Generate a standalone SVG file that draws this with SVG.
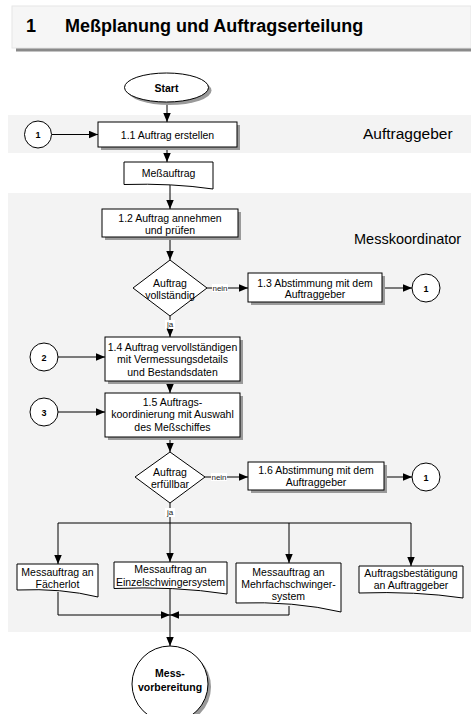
<svg xmlns="http://www.w3.org/2000/svg" width="471" height="714" viewBox="0 0 471 714">
<defs>
<marker id="ah" markerUnits="userSpaceOnUse" markerWidth="10" markerHeight="8" refX="9" refY="3.75" orient="auto">
<path d="M0,0 L9,3.75 L0,7.5 Z" fill="#000"/>
</marker>
<style>
text{font-family:"Liberation Sans",Arial,sans-serif;fill:#000}
.t{font-size:10.5px;text-anchor:middle}
.b{font-weight:bold}
.n{font-size:9px;font-weight:bold;text-anchor:middle}
.lab{font-size:8px;text-anchor:middle;fill:#222}
.lane{font-size:14.5px}
.box{fill:#fff;stroke:#000;stroke-width:1}
.sh{fill:#9a9a9a}
.c{fill:none;stroke:#000;stroke-width:1}
.ca{fill:none;stroke:#000;stroke-width:1;marker-end:url(#ah)}
</style>
</defs>
<rect width="471" height="714" fill="#fff"/>
<g id="title">
<rect x="16" y="48" width="455" height="3.5" fill="#8a8a8a"/>
<rect x="12" y="6" width="459" height="42" fill="#f6f6f6" stroke="#e6e6e6" stroke-width="1"/>
<text x="26" y="32" font-size="18" font-weight="bold">1</text>
<text x="65" y="32" font-size="18" font-weight="bold">Meßplanung und Auftragserteilung</text>
</g>
<g id="lane-auftraggeber">
<rect x="8" y="115" width="463" height="38" fill="#f3f3f3"/>
<text class="lane" x="363" y="139" font-size="15.5" style="font-size:15.5px">Auftraggeber</text>
</g>
<g id="lane-messkoordinator">
<rect x="8" y="193" width="463" height="439" fill="#f3f3f3"/>
<text class="lane" x="354" y="244">Messkoordinator</text>
</g>
<g id="connectors">
<line class="ca" x1="167" y1="102" x2="167" y2="122"/>
<line class="ca" x1="52" y1="134.5" x2="98" y2="134.5"/>
<line class="ca" x1="167" y1="147" x2="167" y2="162"/>
<line class="ca" x1="170" y1="184" x2="170" y2="209"/>
<line class="ca" x1="170" y1="237" x2="170" y2="260"/>
<line class="ca" x1="207" y1="288" x2="248" y2="288"/>
<line class="ca" x1="382" y1="288" x2="412" y2="288"/>
<line class="ca" x1="170" y1="316" x2="170" y2="337"/>
<line class="ca" x1="58" y1="357" x2="105" y2="357"/>
<line class="ca" x1="170" y1="381" x2="170" y2="393"/>
<line class="ca" x1="58" y1="412" x2="105" y2="412"/>
<line class="ca" x1="170" y1="437" x2="170" y2="452"/>
<line class="ca" x1="205" y1="477" x2="248" y2="477"/>
<line class="ca" x1="384" y1="477" x2="412" y2="477"/>
<polyline class="c" points="170,503 170,523"/>
<line class="c" x1="58" y1="523" x2="411" y2="523"/>
<line class="ca" x1="58" y1="523" x2="58" y2="564"/>
<line class="ca" x1="170" y1="523" x2="170" y2="562"/>
<line class="ca" x1="289" y1="523" x2="289" y2="563"/>
<line class="ca" x1="411" y1="523" x2="411" y2="566"/>
<polyline class="ca" points="58,592 58,615 170,615"/>
<polyline class="ca" points="289,606 289,615 170,615"/>
<line class="ca" x1="170" y1="589" x2="170" y2="646"/>
<rect x="212" y="284" width="16" height="8" fill="#fff"/>
<text class="lab" x="220" y="291">nein</text>
<rect x="165" y="320" width="10" height="9" fill="#fff"/>
<text class="lab" x="170" y="327">ja</text>
<rect x="211" y="473" width="16" height="8" fill="#fff"/>
<text class="lab" x="219" y="480">nein</text>
<rect x="165" y="508" width="10" height="9" fill="#fff"/>
<text class="lab" x="170" y="515">ja</text>
</g>
<g id="start">
<ellipse cx="169.5" cy="90.5" rx="42" ry="14.5" class="sh"/>
<ellipse cx="166.5" cy="87.5" rx="42" ry="14.5" class="box"/>
<text class="t b" x="166.5" y="91.5" font-size="11">Start</text>
</g>
<g id="c1a">
<circle cx="38" cy="134.5" r="13.5" class="box"/>
<text class="n" x="38" y="138">1</text>
</g>
<g id="n11">
<rect x="101" y="125" width="139" height="25" class="sh"/>
<rect x="98" y="122" width="139" height="25" class="box"/>
<text class="t" x="167.5" y="138.5">1.1 Auftrag erstellen</text>
</g>
<g id="messauftrag">
<path d="M124,162 H213 V189 Q172,183 124,184.5 Z" class="box"/>
<text class="t" x="168.5" y="177">Meßauftrag</text>
</g>
<g id="n12">
<rect x="105" y="212" width="136" height="28" class="sh"/>
<rect x="102" y="209" width="136" height="28" class="box"/>
<text class="t" x="170" y="221.5">1.2 Auftrag annehmen</text>
<text class="t" x="170" y="233.5">und prüfen</text>
</g>
<g id="d1">
<path d="M170,260 L207,288 L170,316 L133,288 Z" class="box"/>
<text class="t" x="170" y="286.5">Auftrag</text>
<text class="t" x="170" y="298.5">vollständig</text>
</g>
<g id="n13">
<rect x="251" y="276" width="134" height="29" class="sh"/>
<rect x="248" y="273" width="134" height="29" class="box"/>
<text class="t" x="315" y="286.5">1.3 Abstimmung mit dem</text>
<text class="t" x="315" y="298">Auftraggeber</text>
</g>
<g id="c1b">
<circle cx="426" cy="288" r="14" class="box"/>
<text class="n" x="426" y="291.5">1</text>
</g>
<g id="n14">
<rect x="108" y="340" width="135" height="44" class="sh"/>
<rect x="105" y="337" width="135" height="44" class="box"/>
<text class="t" x="172.5" y="350.5">1.4 Auftrag vervollständigen</text>
<text class="t" x="172.5" y="363">mit Vermessungsdetails</text>
<text class="t" x="172.5" y="375.5">und Bestandsdaten</text>
</g>
<g id="c2">
<circle cx="44" cy="357" r="14" class="box"/>
<text class="n" x="44" y="360.5">2</text>
</g>
<g id="n15">
<rect x="108" y="396" width="135" height="44" class="sh"/>
<rect x="105" y="393" width="135" height="44" class="box"/>
<text class="t" x="172.5" y="405.5">1.5 Auftrags-</text>
<text class="t" x="172.5" y="418">koordinierung mit Auswahl</text>
<text class="t" x="172.5" y="430.5">des Meßschiffes</text>
</g>
<g id="c3">
<circle cx="44" cy="412" r="14" class="box"/>
<text class="n" x="44" y="415.5">3</text>
</g>
<g id="d2">
<path d="M170,452 L205,477 L170,503 L135,477 Z" class="box"/>
<text class="t" x="170" y="476">Auftrag</text>
<text class="t" x="170" y="487.5">erfüllbar</text>
</g>
<g id="n16">
<rect x="251" y="465" width="136" height="28" class="sh"/>
<rect x="248" y="462" width="136" height="28" class="box"/>
<text class="t" x="316" y="473.5">1.6 Abstimmung mit dem</text>
<text class="t" x="316" y="485.5">Auftraggeber</text>
</g>
<g id="c1c">
<circle cx="426" cy="477" r="14" class="box"/>
<text class="n" x="426" y="480.5">1</text>
</g>
<g id="doc1">
<path d="M17,564 H98 V597 Q62,588 17,590 Z" class="box"/>
<text class="t" x="57.5" y="575.5">Messauftrag an</text>
<text class="t" x="57.5" y="588">Fächerlot</text>
</g>
<g id="doc2">
<path d="M114,562 H227 V594 Q175,586 114,588.5 Z" class="box"/>
<text class="t" x="170.5" y="573">Messauftrag an</text>
<text class="t" x="170.5" y="586">Einzelschwingersystem</text>
</g>
<g id="doc3">
<path d="M236,563 H341 V612 Q295,601 236,603 Z" class="box"/>
<text class="t" x="288.5" y="576">Messauftrag an</text>
<text class="t" x="288.5" y="588">Mehrfachschwinger-</text>
<text class="t" x="288.5" y="600">system</text>
</g>
<g id="doc4">
<path d="M359,566 H463 V598 Q416,591 359,593 Z" class="box"/>
<text class="t" x="411" y="577">Auftragsbestätigung</text>
<text class="t" x="411" y="589">an Auftraggeber</text>
</g>
<g id="end">
<circle cx="173" cy="687" r="38" class="sh"/>
<circle cx="170" cy="684" r="38" class="box"/>
<text class="t b" x="170" y="677" font-size="10">Mess-</text>
<text class="t b" x="170" y="690.5" font-size="10">vorbereitung</text>
</g>
</svg>
